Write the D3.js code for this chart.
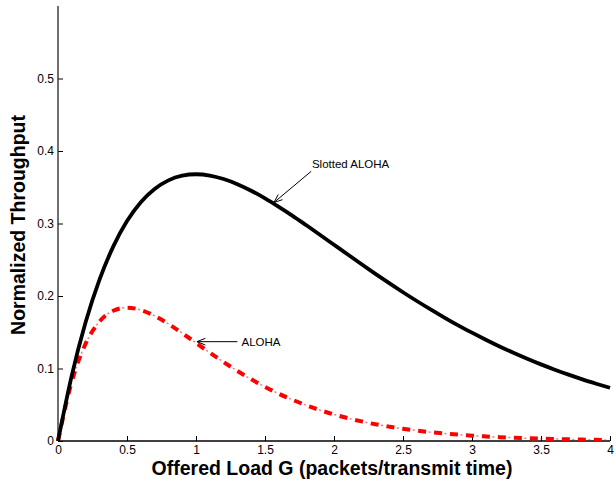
<!DOCTYPE html>
<html><head><meta charset="utf-8">
<script src="https://cdn.jsdelivr.net/npm/d3@7"></script>
<style>
html,body{margin:0;padding:0;background:#fff;}
svg{display:block;font-family:"Liberation Sans",Arial,sans-serif;}
</style></head>
<body>
<svg id="chart" width="616" height="481"></svg>
<script>
// Offered load G (x values)
const loadG = [0,0.1,0.2,0.3,0.4,0.5,0.6,0.7,0.8,0.9,1.0,1.1,1.2,1.3,1.4,1.5,1.6,1.7,1.8,1.9,2.0,
  2.1,2.2,2.3,2.4,2.5,2.6,2.7,2.8,2.9,3.0,3.1,3.2,3.3,3.4,3.5,3.6,3.7,3.8,3.9,4.0];
// Slotted ALOHA throughput
const slottedAloha = [0,0.0905,0.1637,0.2222,0.2681,0.3033,0.3293,0.3476,0.3595,0.3659,0.3679,
  0.3662,0.3614,0.3543,0.3452,0.3347,0.3230,0.3106,0.2975,0.2842,0.2707,0.2572,0.2438,0.2306,
  0.2177,0.2052,0.1931,0.1815,0.1703,0.1595,0.1494,0.1397,0.1304,0.1217,0.1135,0.1057,0.0984,
  0.0915,0.0850,0.0790,0.0733];
// Pure ALOHA throughput
const pureAloha = [0,0.0819,0.1341,0.1646,0.1797,0.1839,0.1807,0.1726,0.1615,0.1488,0.1353,
  0.1219,0.1089,0.0966,0.0851,0.0747,0.0652,0.0568,0.0492,0.0425,0.0366,0.0315,0.0270,0.0231,
  0.0198,0.0168,0.0144,0.0122,0.0104,0.0088,0.0074,0.0063,0.0053,0.0045,0.0038,0.0032,0.0027,
  0.0023,0.0019,0.0016,0.0013];
const xTicks = [0,0.5,1,1.5,2,2.5,3,3.5,4];
const xTickLabels = ["0","0.5","1","1.5","2","2.5","3","3.5","4"];
const yTicks = [0,0.1,0.2,0.3,0.4,0.5];
const yTickLabels = ["0","0.1","0.2","0.3","0.4","0.5"];
const xTitle = "Offered Load G (packets/transmit time)";
const yTitle = "Normalized Throughput";
// annotations: [label, headG, headS, tailG, tailS, textG, textS]
const annotations = [
  ["Slotted ALOHA", 1.565, 0.329, 1.835, 0.372, 1.84, 0.382],
  ["ALOHA", 1.007, 0.137, 1.30, 0.137, 1.33, 0.137]
];

const W = 616, H = 481;
const m = {left:58, right:6, top:6, bottom:40};
const svg = d3.select("#chart");
const x = d3.scaleLinear().domain([0,4]).range([m.left, W-m.right]);
const y = d3.scaleLinear().domain([0,0.6]).range([H-m.bottom, m.top]);

// axes (MATLAB-style inward ticks)
const xAxis = svg.append("g").attr("transform",`translate(0,${H-m.bottom})`)
  .call(d3.axisBottom(x).tickValues(xTicks).tickFormat((d,i)=>xTickLabels[i]).tickSizeInner(-5).tickSizeOuter(0).tickPadding(4));
const yAxis = svg.append("g").attr("transform",`translate(${m.left},0)`)
  .call(d3.axisLeft(y).tickValues(yTicks).tickFormat((d,i)=>yTickLabels[i]).tickSizeInner(-5).tickSizeOuter(0).tickPadding(4));
[xAxis,yAxis].forEach(a=>{
  a.selectAll("text").attr("font-size","12px").attr("fill","#000").attr("font-family","Liberation Sans, Arial, sans-serif");
  a.selectAll("line").attr("stroke","#000").attr("stroke-width",1);
  a.select(".domain").remove();
});
svg.append("line").attr("x1",m.left).attr("x2",W-m.right).attr("y1",H-m.bottom).attr("y2",H-m.bottom).attr("stroke","#000").attr("stroke-width",1.3);
svg.append("line").attr("x1",m.left).attr("x2",m.left).attr("y1",m.top).attr("y2",H-m.bottom).attr("stroke","#222").attr("stroke-width",1.3);

// lines
const line = d3.line().x((d,i)=>x(loadG[i])).y(d=>y(d)).curve(d3.curveMonotoneX);
svg.append("path").datum(pureAloha).attr("d",line).attr("fill","none")
  .attr("stroke","#ff0000").attr("stroke-opacity",0.55).attr("stroke-width",1.5)
  .attr("stroke-dasharray","2,14").attr("stroke-dashoffset",-10.5);
svg.append("path").datum(pureAloha).attr("d",line).attr("fill","none")
  .attr("stroke","#ff0000").attr("stroke-width",4).attr("stroke-dasharray","8,8");
svg.append("path").datum(slottedAloha).attr("d",line).attr("fill","none")
  .attr("stroke","#000").attr("stroke-width",3.8);

// annotations
annotations.forEach(([label,hg,hs,tg,ts,xg,ys])=>{
  const hx=x(hg), hy=y(hs), tx=x(tg), ty=y(ts);
  svg.append("line").attr("x1",tx).attr("y1",ty).attr("x2",hx).attr("y2",hy).attr("stroke","#000").attr("stroke-width",1);
  const ang=Math.atan2(ty-hy,tx-hx), L=9, a=0.38;
  const p1=[hx+L*Math.cos(ang+a),hy+L*Math.sin(ang+a)], p2=[hx+L*Math.cos(ang-a),hy+L*Math.sin(ang-a)];
  svg.append("path").attr("d",`M${p1[0]},${p1[1]}L${hx},${hy}L${p2[0]},${p2[1]}`).attr("fill","none").attr("stroke","#000").attr("stroke-width",1);
  svg.append("text").attr("x",x(xg)).attr("y",y(ys)).attr("dy","0.35em").attr("font-size","11.5px").text(label);
});

// titles
svg.append("text").attr("x",(m.left+W-m.right)/2 - 2).attr("y",475).attr("text-anchor","middle")
  .attr("font-size","19.5px").attr("font-weight","bold").text(xTitle);
svg.append("text").attr("transform",`translate(25,${225}) rotate(-90)`).attr("text-anchor","middle")
  .attr("font-size","19.5px").attr("font-weight","bold").text(yTitle);
</script>
</body></html>
